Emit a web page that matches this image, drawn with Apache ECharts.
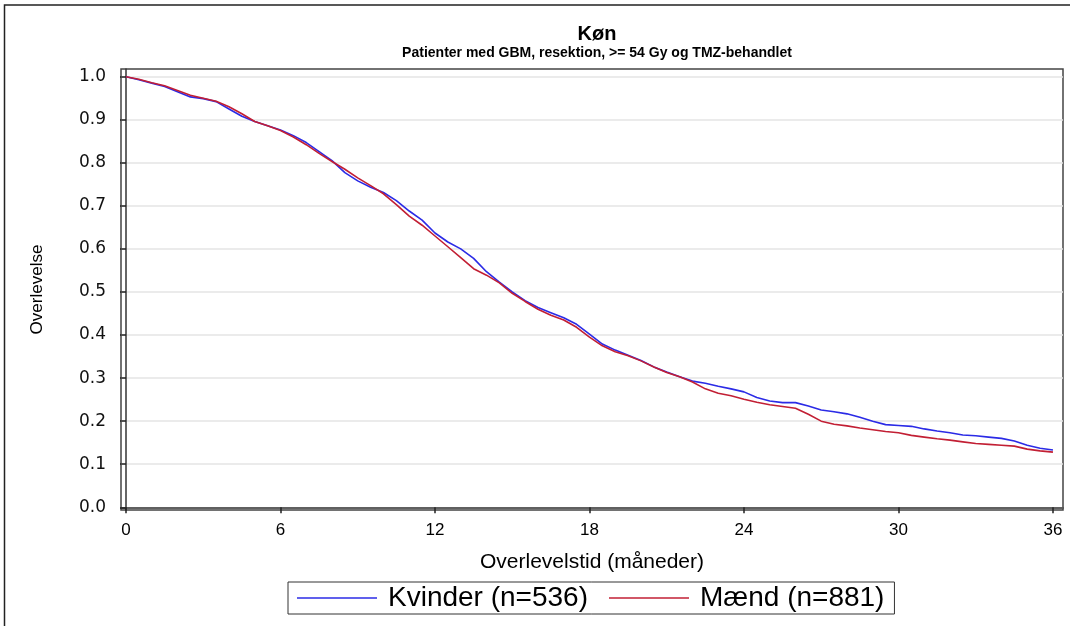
<!DOCTYPE html>
<html>
<head>
<meta charset="utf-8">
<script src="https://cdn.jsdelivr.net/npm/echarts@6/dist/echarts.min.js"></script>
<style>
html,body{margin:0;padding:0;background:#fff;}
#chart{width:1070px;height:626px;}
</style>
</head>
<body>
<div id="chart"></div>
<script>
// ---- data ----
const months = [0,0.5,1,1.5,2,2.5,3,3.5,4,4.5,5,5.5,6,6.5,7,7.5,8,8.5,9,9.5,10,10.5,11,11.5,12,12.5,13,13.5,14,14.5,15,15.5,16,16.5,17,17.5,18,18.5,19,19.5,20,20.5,21,21.5,22,22.5,23,23.5,24,24.5,25,25.5,26,26.5,27,27.5,28,28.5,29,29.5,30,30.5,31,31.5,32,32.5,33,33.5,34,34.5,35,35.5,36];
const kvinder = [1.000,0.993,0.985,0.977,0.965,0.953,0.949,0.942,0.925,0.908,0.896,0.886,0.876,0.863,0.847,0.826,0.805,0.777,0.758,0.743,0.731,0.712,0.688,0.667,0.637,0.616,0.600,0.578,0.547,0.523,0.500,0.480,0.464,0.452,0.440,0.425,0.402,0.379,0.365,0.353,0.341,0.326,0.314,0.303,0.293,0.288,0.281,0.275,0.268,0.255,0.247,0.243,0.243,0.235,0.226,0.222,0.217,0.209,0.200,0.192,0.190,0.188,0.182,0.177,0.173,0.168,0.166,0.163,0.160,0.154,0.144,0.137,0.133];
const maend = [1.000,0.994,0.986,0.979,0.968,0.957,0.950,0.943,0.930,0.914,0.896,0.886,0.875,0.860,0.842,0.822,0.803,0.785,0.765,0.747,0.728,0.703,0.676,0.655,0.630,0.605,0.580,0.554,0.539,0.521,0.497,0.478,0.460,0.446,0.435,0.418,0.395,0.375,0.361,0.352,0.340,0.326,0.313,0.303,0.291,0.275,0.265,0.259,0.251,0.244,0.238,0.234,0.230,0.216,0.200,0.193,0.189,0.184,0.180,0.176,0.173,0.167,0.163,0.159,0.156,0.152,0.148,0.146,0.144,0.142,0.135,0.131,0.128];
const seriesNames = ['Kvinder (n=536)', 'Mænd (n=881)'];
const seriesColors = ['#2b2be6', '#c21f34'];
const xTicks = [0,6,12,18,24,30,36];
const yTicks = [0,0.1,0.2,0.3,0.4,0.5,0.6,0.7,0.8,0.9,1.0];
const titleText = 'Køn';
const subtitleText = 'Patienter med GBM, resektion, >= 54 Gy og TMZ-behandlet';
const xName = 'Overlevelstid (måneder)';
const yName = 'Overlevelse';

const SANS = '"Liberation Sans", Arial, sans-serif';

const chart = echarts.init(document.getElementById('chart'), null, {renderer: 'canvas'});
const zip = (xs, ys) => xs.map((x, i) => [x, ys[i]]);

chart.setOption({
  animation: false,
  backgroundColor: '#fff',
  graphic: [{
    type: 'rect', silent: true,
    shape: {x: 4.5, y: 5, width: 1200, height: 800},
    style: {fill: null, stroke: '#222', lineWidth: 1.5}
  }],
  title: {
    text: titleText,
    subtext: subtitleText,
    left: 592, top: 19, textAlign: 'center',
    itemGap: 2,
    textStyle: {fontFamily: SANS, fontWeight: 'bold', fontSize: 20, color: '#000'},
    subtextStyle: {fontFamily: SANS, fontWeight: 'bold', fontSize: 14, color: '#000'}
  },
  grid: {
    left: 121, right: 7, top: 69, bottom: 116,
    show: true, borderColor: '#444', borderWidth: 1.5, backgroundColor: '#fff'
  },
  xAxis: {
    type: 'value', min: -0.194, max: 36.39,
    name: xName, nameLocation: 'middle', nameGap: 42,
    nameTextStyle: {fontFamily: SANS, fontSize: 21, color: '#000'},
    axisLine: {show: true, lineStyle: {color: '#333', width: 1.5}},
    axisTick: {show: true, length: 6, customValues: xTicks, lineStyle: {color: '#222', width: 1.5}},
    axisLabel: {customValues: xTicks, fontFamily: SANS, fontSize: 17, color: '#000', margin: 12},
    splitLine: {show: false}
  },
  yAxis: {
    type: 'value', min: -0.0063, max: 1.0178,
    name: yName, nameLocation: 'middle', nameGap: 75, nameRotate: 90,
    nameTextStyle: {fontFamily: SANS, fontSize: 17, color: '#000'},
    axisLine: {show: true, lineStyle: {color: '#333', width: 1.5}},
    axisTick: {show: true, length: 6, customValues: yTicks, lineStyle: {color: '#222', width: 1.5}},
    axisLabel: {customValues: yTicks, fontFamily: '"DejaVu Sans", sans-serif', fontSize: 17, color: '#111', margin: 15,
      formatter: v => v.toFixed(1)},
    splitLine: {show: true, lineStyle: {color: '#e4e4e4', width: 1.5}}
  },
  legend: {
    left: 288, top: 582,
    data: seriesNames.map(n => ({name: n, icon: 'rect'})),
    borderColor: '#333', borderWidth: 1, padding: [2, 10, 2, 9],
    itemWidth: 80, itemHeight: 1.5, itemGap: 21,
    textStyle: {fontFamily: SANS, fontSize: 28, color: '#000', padding: [0, 0, 0, 6]}
  },
  series: seriesNames.map((n, i) => ({
    name: n, type: 'line', data: zip(months, i === 0 ? kvinder : maend),
    showSymbol: false, symbol: 'none',
    lineStyle: {color: seriesColors[i], width: 1.6}, itemStyle: {color: seriesColors[i]}, z: 3 + i
  }))
});
</script>
</body>
</html>
